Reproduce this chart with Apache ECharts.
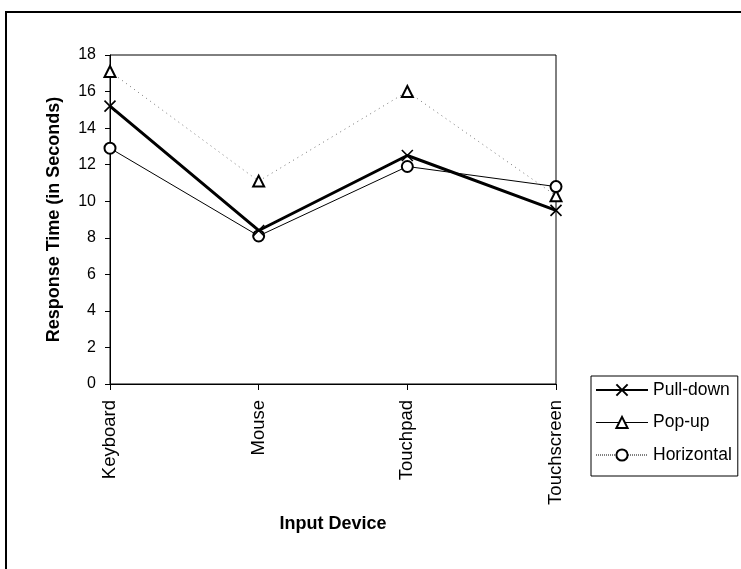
<!DOCTYPE html>
<html>
<head>
<meta charset="utf-8">
<script src="https://cdn.jsdelivr.net/npm/echarts@6/dist/echarts.min.js"></script>
<style>
html,body{margin:0;padding:0;background:#fff;}
#c{width:741px;height:569px;}
</style>
</head>
<body>
<div id="c"></div>
<script>
const categories = ['Keyboard', 'Mouse', 'Touchpad', 'Touchscreen'];
const pullDown = [15.2, 8.4, 12.5, 9.5];
const popUp = [17.1, 11.1, 16.0, 10.3];
const horizontal = [12.9, 8.1, 11.9, 10.8];
const yTicks = { min: 0, max: 18, interval: 2 };

const FONT = "'Liberation Sans', Arial, sans-serif";
const X_PATH = 'path://M0,0L10,10M10,0L0,10';

const chart = echarts.init(document.getElementById('c'), null, { renderer: 'canvas' });
chart.setOption({
  backgroundColor: '#fff',
  animation: false,
  graphic: [{
    type: 'rect',
    shape: { x: 6, y: 12, width: 800, height: 700 },
    style: { fill: 'none', stroke: '#000', lineWidth: 2 },
    z: 0
  }],
  grid: {
    left: 110, right: 185, top: 55, bottom: 185,
    show: true, borderColor: '#000', borderWidth: 1, backgroundColor: 'transparent'
  },
  legend: {
    orient: 'vertical',
    left: 591, top: 376,
    data: [
      { name: 'Pull-down' },
      { name: 'Pop-up', lineStyle: { color: '#000', width: 1, type: 'solid' } },
      { name: 'Horizontal', lineStyle: { color: '#000', width: 1, type: [1, 1] } }
    ],
    itemWidth: 52, itemHeight: 14, itemGap: 12.5,
    padding: [4, 6, 11, 4],
    borderColor: '#000', borderWidth: 1,
    backgroundColor: '#fff',
    textStyle: { fontFamily: FONT, fontSize: 17.5, color: '#000', lineHeight: 20 }
  },
  xAxis: {
    type: 'category',
    data: categories,
    boundaryGap: false,
    name: 'Input Device',
    nameLocation: 'middle',
    nameGap: 131,
    nameTextStyle: { fontFamily: FONT, fontSize: 18, fontWeight: 'bold', color: '#000' },
    axisLine: { lineStyle: { color: '#000', width: 1 } },
    axisTick: { show: true, length: 6, lineStyle: { color: '#000' }, alignWithLabel: true },
    axisLabel: { rotate: 90, margin: 16, fontFamily: FONT, fontSize: 18.5, color: '#000' },
    splitLine: { show: false }
  },
  yAxis: {
    type: 'value',
    min: yTicks.min, max: yTicks.max, interval: yTicks.interval,
    name: 'Response Time (in Seconds)',
    nameLocation: 'middle',
    nameGap: 47,
    nameTextStyle: { fontFamily: FONT, fontSize: 18, fontWeight: 'bold', color: '#000' },
    axisLine: { show: true, lineStyle: { color: '#000', width: 1 } },
    axisTick: { show: true, length: 5, lineStyle: { color: '#000' } },
    axisLabel: { margin: 14, fontFamily: FONT, fontSize: 16, color: '#000' },
    splitLine: { show: false }
  },
  series: [
    {
      name: 'Pop-up', type: 'line', data: popUp,
      symbol: 'emptyTriangle', symbolSize: 11,
      lineStyle: { color: '#777', width: 1, type: [1, 4] },
      itemStyle: { color: '#000', borderColor: '#000', borderWidth: 1.3 },
      z: 2
    },
    {
      name: 'Horizontal', type: 'line', data: horizontal,
      symbol: 'emptyCircle', symbolSize: 11,
      lineStyle: { color: '#000', width: 1 },
      itemStyle: { color: '#000', borderColor: '#000', borderWidth: 1.3 },
      z: 3
    },
    {
      name: 'Pull-down', type: 'line', data: pullDown,
      symbol: X_PATH, symbolSize: 11,
      lineStyle: { color: '#000', width: 3 },
      itemStyle: { color: '#000', borderColor: '#000', borderWidth: 1.6 },
      z: 4
    }
  ]
});
</script>
</body>
</html>
